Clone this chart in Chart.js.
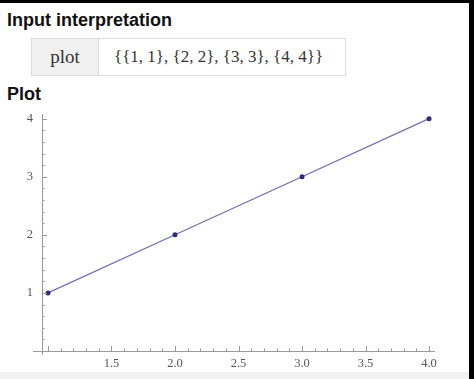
<!DOCTYPE html>
<html>
<head>
<meta charset="utf-8">
<script src="https://cdn.jsdelivr.net/npm/chart.js@4"></script>
<style>
  html, body { margin: 0; padding: 0; }
  body { width: 474px; height: 379px; background: #000; position: relative; overflow: hidden; }
  #page { position: absolute; left: 0; top: 3px; width: 469px; height: 369px; background: #fff; }
  #foot { position: absolute; left: 0; top: 372px; width: 469px; height: 7px; background: #f2f2f2; }
  .head { position: absolute; left: 7px; font: bold 18px "Liberation Sans", Arial, sans-serif; color: #111; }
  #box { position: absolute; left: 31px; top: 35px; width: 313px; height: 36px; border: 1px solid #ddd; display: flex; }
  #box .k { width: 66px; background: #f1f1f1; border-right: 1px solid #ddd; font: 19px "Liberation Serif", serif; color: #333; text-align: center; line-height: 35px; }
  #box .v { flex: 1; font: 17px "Liberation Serif", serif; color: #333; line-height: 35px; padding-left: 15px; }
  #plotWrap { position: absolute; left: 0; top: 102px; width: 469px; height: 267px; }
</style>
</head>
<body>
<div id="page">
  <div class="head" style="top:7px">Input interpretation</div>
  <div id="box"><div class="k">plot</div><div class="v">{{1, 1}, {2, 2}, {3, 3}, {4, 4}}</div></div>
  <div class="head" style="top:81px">Plot</div>
  <div id="plotWrap"><canvas id="plot" width="469" height="267"></canvas></div>
</div>
<div id="foot"></div>
<script>
// data points
const xValues = [1, 2, 3, 4];
const yValues = [1, 2, 3, 4];

// tick marks
const xMajorTicks = [1.5, 2.0, 2.5, 3.0, 3.5, 4.0];
const xTickLabels = ["1.5", "2.0", "2.5", "3.0", "3.5", "4.0"];
const yMajorTicks = [1, 2, 3, 4];
const yTickLabels = ["1", "2", "3", "4"];

const lineColor = "#6d6db2";
const pointColor = "#2c2c7a";
const axisColor = "#999";

// axes with major + minor ticks, Mathematica style
const axesPlugin = {
    id: "mmaAxes",
    afterDraw(chart) {
        const ctx = chart.ctx;
        const xs = chart.scales.x, ys = chart.scales.y;
        const area = chart.chartArea;
        const x0 = area.left, y0 = area.bottom;
        ctx.save();
        ctx.strokeStyle = axisColor;
        ctx.lineWidth = 1;
        ctx.beginPath();
        ctx.moveTo(x0 - 9, y0 + 0.5);
        ctx.lineTo(area.right, y0 + 0.5);
        ctx.moveTo(x0 + 0.5, area.top);
        ctx.lineTo(x0 + 0.5, y0 + 4);
        // x ticks every 0.1, major every 0.5
        for (let i = 10; i <= 40; i++) {
            const px = Math.round(xs.getPixelForValue(i / 10)) + 0.5;
            const len = i % 5 === 0 ? 5 : 2.5;
            ctx.moveTo(px, y0);
            ctx.lineTo(px, y0 - len);
        }
        // y ticks every 0.2, major every 1
        for (let i = 1; i <= 20; i++) {
            const py = Math.round(ys.getPixelForValue(i / 5)) + 0.5;
            const len = i % 5 === 0 ? 5 : 2.5;
            ctx.moveTo(x0, py);
            ctx.lineTo(x0 + len, py);
        }
        ctx.stroke();
        ctx.restore();
    }
};

new Chart(document.getElementById("plot"), {
    type: "scatter",
    data: {
        datasets: [{
            data: xValues.map((x, i) => ({ x: x, y: yValues[i] })),
            showLine: true,
            borderColor: lineColor,
            borderWidth: 1.2,
            pointRadius: 2.5,
            pointBackgroundColor: pointColor,
            pointBorderWidth: 0
        }]
    },
    options: {
        responsive: false,
        animation: false,
        layout: { padding: { top: 9, right: 34, left: 0, bottom: 0 } },
        plugins: { legend: { display: false }, tooltip: { enabled: false } },
        scales: {
            x: {
                type: "linear",
                min: 0.953,
                max: 4.047,
                grid: { display: false, drawTicks: false },
                border: { display: false },
                afterBuildTicks: s => { s.ticks = xMajorTicks.map(v => ({ value: v })); },
                afterFit: s => { s.height = 21; s.paddingLeft = 0; s.paddingRight = 0; },
                ticks: {
                    padding: 5,
                    maxRotation: 0,
                    autoSkip: false,
                    color: "#555",
                    font: { family: "Liberation Serif", size: 12.5 },
                    callback: (v) => xTickLabels[xMajorTicks.indexOf(v)]
                }
            },
            y: {
                type: "linear",
                min: 0,
                max: 4.08,
                grid: { display: false, drawTicks: false },
                border: { display: false },
                afterBuildTicks: s => { s.ticks = yMajorTicks.map(v => ({ value: v })); },
                afterFit: s => { s.width = 42; s.paddingTop = 0; s.paddingBottom = 0; },
                ticks: {
                    padding: 9,
                    autoSkip: false,
                    color: "#555",
                    font: { family: "Liberation Serif", size: 12.5 },
                    callback: (v) => yTickLabels[yMajorTicks.indexOf(v)]
                }
            }
        }
    },
    plugins: [axesPlugin]
});
</script>
</body>
</html>
